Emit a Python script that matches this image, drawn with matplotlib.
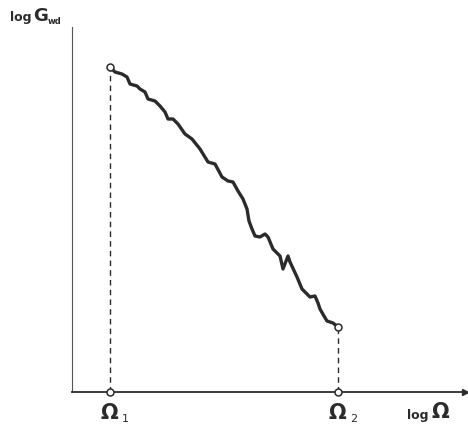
import matplotlib
matplotlib.use("Agg")
import matplotlib.pyplot as plt
import numpy as np

# log Omega (arbitrary units) and log G_wd (arbitrary units)
log_omega = [0.38, 0.43, 0.50, 0.55, 0.58, 0.65, 0.68, 0.73, 0.76, 0.83, 0.88, 0.93,
             0.96, 1.01, 1.06, 1.13, 1.20, 1.28, 1.36, 1.43, 1.50, 1.56, 1.61, 1.66,
             1.71, 1.75, 1.77, 1.80, 1.83, 1.88, 1.93, 1.96, 2.01, 2.08, 2.11, 2.16,
             2.18, 2.25, 2.30, 2.34, 2.38, 2.43, 2.46, 2.48, 2.52, 2.55, 2.61, 2.66]
log_g = [3.25, 3.20, 3.18, 3.15, 3.08, 3.06, 3.03, 3.00, 2.93, 2.91, 2.86, 2.80,
         2.73, 2.73, 2.68, 2.58, 2.53, 2.43, 2.30, 2.28, 2.15, 2.11, 2.10, 2.01,
         1.93, 1.83, 1.71, 1.63, 1.56, 1.55, 1.58, 1.55, 1.43, 1.36, 1.23, 1.36,
         1.30, 1.15, 1.03, 0.99, 0.95, 0.96, 0.89, 0.83, 0.76, 0.71, 0.69, 0.65]

omega1 = log_omega[0]
omega2 = log_omega[-1]

ink = "#2b2b2b"

fig = plt.figure(figsize=(4.68, 4.27), dpi=100)
ax = fig.add_axes([72 / 468, 34 / 427, 393 / 468, 365 / 427])
ax.set_xlim(0, 3.93)
ax.set_ylim(0, 3.65)
for s in ["top", "right"]:
    ax.spines[s].set_visible(False)
ax.spines["bottom"].set_color(ink)
ax.spines["bottom"].set_linewidth(1.3)
ax.spines["left"].set_color("#555555")
ax.spines["left"].set_linewidth(0.8)
ax.set_xticks([])
ax.set_yticks([])

# arrow head on the x axis
ax.plot([1.0], [0], marker=">", color=ink, markersize=5,
        transform=ax.get_yaxis_transform(), clip_on=False)

# curve
ax.plot(log_omega, log_g, color=ink, linewidth=2.4, solid_joinstyle="round",
        solid_capstyle="round", zorder=3)

# dashed projections
ax.plot([omega1, omega1], [0, log_g[0]], color=ink, linestyle=(0, (4, 3)), linewidth=1.0)
ax.plot([omega2, omega2], [0, log_g[-1]], color=ink, linestyle=(0, (4, 3)), linewidth=1.0)

# open circles
ax.plot([omega1, omega2, omega1, omega2], [log_g[0], log_g[-1], 0, 0], linestyle="none",
        marker="o", markersize=5, markerfacecolor="white", markeredgecolor=ink,
        markeredgewidth=1.1, zorder=5, clip_on=False)

# labels
for om, sub in [(omega1, "1"), (omega2, "2")]:
    ax.text(om, -0.10, r"$\mathbf{\Omega}$", ha="center", va="top", fontsize=15,
            color=ink, clip_on=False)
    ax.text(om + 0.12, -0.315, sub, ha="left", va="bottom", fontsize=8, color=ink,
            clip_on=False)

ax.text(3.56, -0.23, "log", ha="right", va="center", fontsize=9, fontweight="bold",
        color=ink, clip_on=False)
ax.text(3.59, -0.19, r"$\mathbf{\Omega}$", ha="left", va="center", fontsize=15,
        color=ink, clip_on=False)

fig.text(10 / 468, 1 - 18 / 427, "log", ha="left", va="center", fontsize=9,
         fontweight="bold", color=ink)
fig.text(33 / 468, 1 - 16 / 427, "G", ha="left", va="center", fontsize=13,
         fontweight="bold", color=ink)
fig.text(48 / 468, 1 - 22 / 427, "wd", ha="left", va="center", fontsize=6,
         fontweight="bold", color=ink)

fig.savefig("out.png", dpi=100)
